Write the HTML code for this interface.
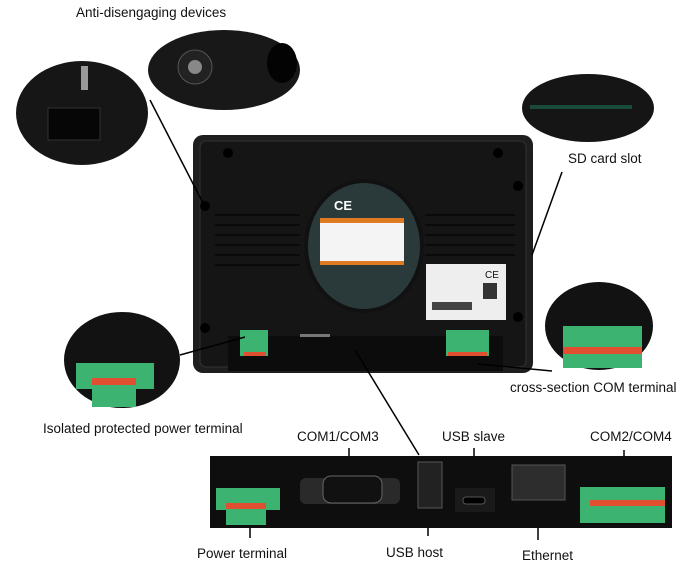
<!DOCTYPE html>
<html><head><meta charset="utf-8"><style>
html,body{margin:0;padding:0;background:#fff;}
svg{display:block;}
text{font-family:"Liberation Sans",sans-serif;font-size:13.5px;fill:#111;}
</style></head><body>
<svg width="693" height="574" viewBox="0 0 693 574" xmlns="http://www.w3.org/2000/svg">
<rect width="693" height="574" fill="#fff"/>
<text x="76" y="17">Anti-disengaging devices</text>
<ellipse cx="224" cy="70" rx="76" ry="40" fill="#181818"/>
<ellipse cx="195" cy="67" rx="17" ry="17" fill="#222" stroke="#555"/>
<circle cx="195" cy="67" r="7" fill="#888"/>
<ellipse cx="282" cy="63" rx="15" ry="20" fill="#030303"/>
<ellipse cx="82" cy="113" rx="66" ry="52" fill="#161616"/>
<rect x="48" y="108" width="52" height="32" fill="#060606" stroke="#333"/>
<rect x="81" y="66" width="7" height="24" fill="#999"/>
<ellipse cx="588" cy="108" rx="66" ry="34" fill="#151515"/>
<rect x="530" y="105" width="102" height="4" fill="#1a4a3a"/>
<text x="568" y="163">SD card slot</text>
<rect x="193" y="135" width="340" height="238" rx="10" fill="#1e1e1e"/>
<rect x="200" y="141" width="326" height="226" rx="6" fill="#151515" stroke="#333"/>
<g fill="#000">
<circle cx="228" cy="153" r="5"/><circle cx="498" cy="153" r="5"/>
<circle cx="205" cy="206" r="5"/><circle cx="518" cy="186" r="5"/>
<circle cx="205" cy="328" r="5"/><circle cx="518" cy="317" r="5"/>
</g>
<g stroke="#0a0a0a" stroke-width="2">
<line x1="215" y1="215" x2="300" y2="215"/><line x1="215" y1="225" x2="300" y2="225"/><line x1="215" y1="235" x2="300" y2="235"/><line x1="215" y1="245" x2="300" y2="245"/><line x1="215" y1="255" x2="300" y2="255"/><line x1="215" y1="265" x2="300" y2="265"/>
<line x1="425" y1="215" x2="515" y2="215"/><line x1="425" y1="225" x2="515" y2="225"/><line x1="425" y1="235" x2="515" y2="235"/><line x1="425" y1="245" x2="515" y2="245"/><line x1="425" y1="255" x2="515" y2="255"/>
</g>
<ellipse cx="364" cy="246" rx="58" ry="65" fill="#2a3a3a" stroke="#111" stroke-width="4"/>
<rect x="320" y="222" width="84" height="40" fill="#f4f4f4"/>
<rect x="320" y="218" width="84" height="5" fill="#e07a20"/>
<rect x="320" y="261" width="84" height="4" fill="#e07a20"/>
<text x="334" y="210" style="font-size:13px;fill:#fff;font-weight:bold">CE</text>
<rect x="426" y="264" width="80" height="56" fill="#eee"/>
<text x="485" y="278" style="font-size:10px">CE</text>
<rect x="483" y="283" width="14" height="16" fill="#333"/>
<rect x="432" y="302" width="40" height="8" fill="#444"/>
<rect x="228" y="336" width="275" height="35" fill="#0c0c0c"/>
<g fill="#3cb371">
<rect x="240" y="330" width="28" height="26"/><rect x="446" y="330" width="43" height="26"/></g>
<g fill="#e05030"><rect x="244" y="352" width="22" height="4"/><rect x="448" y="352" width="39" height="4"/></g>
<rect x="300" y="334" width="30" height="3" fill="#777"/>
<ellipse cx="122" cy="360" rx="58" ry="48" fill="#121212"/>
<rect x="76" y="363" width="78" height="26" fill="#3cb371"/>
<rect x="92" y="385" width="44" height="22" fill="#3cb371"/>
<rect x="92" y="378" width="44" height="7" fill="#e05030"/>
<text x="43" y="433">Isolated protected power terminal</text>
<ellipse cx="599" cy="326" rx="54" ry="44" fill="#121212"/>
<rect x="563" y="326" width="79" height="22" fill="#3cb371"/>
<rect x="563" y="347" width="79" height="7" fill="#e05030"/>
<rect x="563" y="354" width="79" height="14" fill="#3cb371"/>
<text x="510" y="392">cross-section COM terminal</text>
<g stroke="#000" stroke-width="1.5" fill="none">
<line x1="150" y1="100" x2="204" y2="205"/>
<line x1="562" y1="172" x2="532" y2="255"/>
<line x1="180" y1="355" x2="245" y2="337"/>
<line x1="478" y1="364" x2="552" y2="371"/>
<line x1="355" y1="350" x2="419" y2="455"/>
<line x1="349" y1="448" x2="349" y2="476"/>
<line x1="474" y1="448" x2="474" y2="490"/>
<line x1="624" y1="450" x2="624" y2="490"/>
<line x1="250" y1="510" x2="250" y2="538"/>
<line x1="428" y1="508" x2="428" y2="536"/>
<line x1="538" y1="500" x2="538" y2="540"/>
</g>
<text x="297" y="441">COM1/COM3</text>
<text x="442" y="441">USB slave</text>
<text x="590" y="441">COM2/COM4</text>
<rect x="210" y="456" width="462" height="72" fill="#0e0e0e"/>
<rect x="216" y="488" width="64" height="22" fill="#3cb371"/>
<rect x="226" y="505" width="40" height="20" fill="#3cb371"/>
<rect x="226" y="503" width="40" height="6" fill="#e05030"/>
<rect x="300" y="478" width="100" height="26" rx="6" fill="#2a2a2a"/>
<rect x="323" y="476" width="59" height="27" rx="8" fill="#111" stroke="#666"/>
<rect x="418" y="462" width="24" height="46" fill="#222" stroke="#555"/>
<rect x="455" y="488" width="40" height="24" fill="#1a1a1a"/>
<rect x="463" y="497" width="22" height="7" rx="3" fill="#000" stroke="#555"/>
<rect x="512" y="465" width="53" height="35" fill="#2d2d2d" stroke="#555"/>
<rect x="580" y="487" width="85" height="36" fill="#3cb371"/>
<rect x="590" y="500" width="75" height="6" fill="#e05030"/>
<text x="197" y="558">Power terminal</text>
<text x="386" y="557">USB host</text>
<text x="522" y="560">Ethernet</text>
</svg>
</body></html>
